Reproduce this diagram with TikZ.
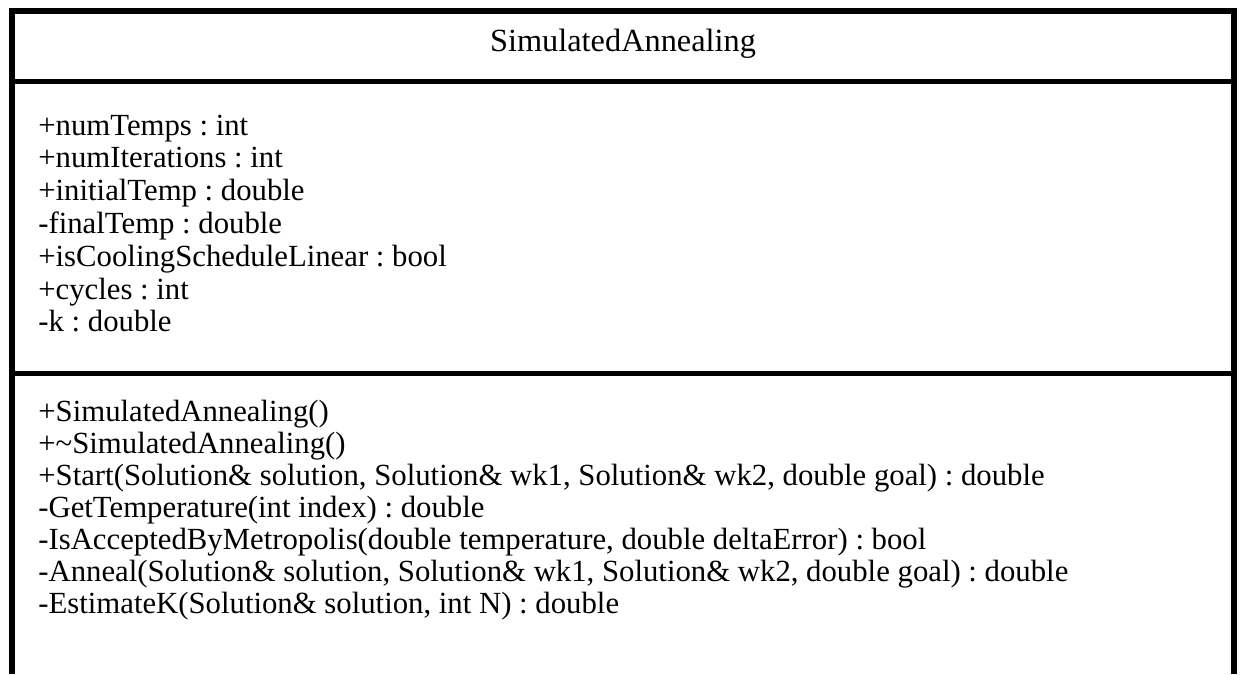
\documentclass[tikz,border=0pt]{standalone}
\usepackage{fontspec}
\setmainfont{Liberation Serif}
\frenchspacing
\usetikzlibrary{positioning}
\tikzset{
 uml frame/.style={line width=3.6pt,line join=miter},
 uml rule/.style={line width=2.8pt},
 uml title/.style={font=\fontsize{18.4}{20}\selectfont,inner sep=0pt,anchor=base},
 uml member/.style={font=\fontsize{17.5}{19}\selectfont,inner sep=0pt,
                    anchor=base west}
}

\begin{document}
\begin{tikzpicture}[x=0.02cm,y=-0.02cm]
 \useasboundingbox (0,0) rectangle (1240,674);
 \coordinate (tl) at (12,11);
 \coordinate (tr) at (1234,11);
 \coordinate (bl) at (12,674);
 \coordinate (br) at (1234,674);
 \coordinate (r1l) at (12,81.5);
 \coordinate (r1r) at (1234,81.5);
 \coordinate (r2l) at (12,373.5);
 \coordinate (r2r) at (1234,373.5);

 \draw[uml frame] (bl)--(tl)--(tr)--(br);
 \draw[uml rule] (r1l)--(r1r);
 \draw[uml rule] (r2l)--(r2r);

 \node[uml title] (title) at (623,51.7) {SimulatedAnnealing};

 % attributes
 \foreach \txt [count=\i] in {{+numTemps : int},{+numIterations : int},
   {+initialTemp : double},{-finalTemp : double},
   {+isCoolingScheduleLinear : bool},{+cycles : int},{-k : double}}
   \node[uml member] (attr\i) at (38,{135+32.8*(\i-1)}) {\txt};

 % operations
 \foreach \txt [count=\i] in {{+SimulatedAnnealing()},
   {+\textasciitilde SimulatedAnnealing()},
   {+Start(Solution\& solution, Solution\& wk1, Solution\& wk2, double goal) : double},
   {-GetTemperature(int index) : double},
   {-IsAcceptedByMetropolis(double temperature, double deltaError) : bool},
   {-Anneal(Solution\& solution, Solution\& wk1, Solution\& wk2, double goal) : double},
   {-EstimateK(Solution\& solution, int N) : double}}
   \node[uml member] (op\i) at (38,{421+32*(\i-1)}) {\txt};
\end{tikzpicture}
\end{document}
